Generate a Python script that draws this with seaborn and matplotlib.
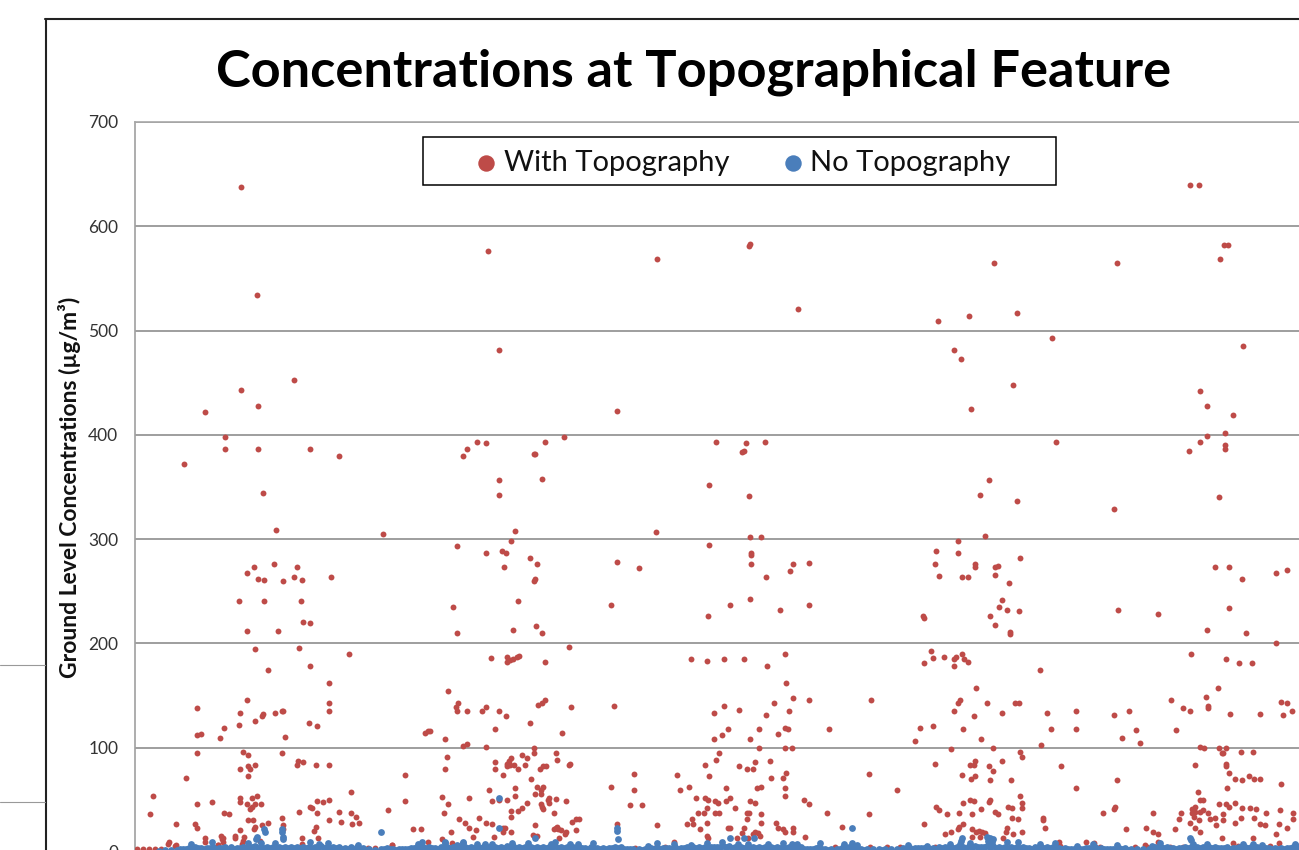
#!/usr/bin/env python3
# -*- coding: utf-8 -*-
#%% Imports
import matplotlib
matplotlib.use("Agg")
import matplotlib.pyplot as plt
from matplotlib.lines import Line2D
from matplotlib.patches import Rectangle
import pandas as pd
import seaborn as sns

#%% Data: x is the sample number along the axis, y is concentration in ug/m3
# With Topography, above about 400
x_top = [106, 122, 106, 159, 353, 364, 522, 614, 615, 663,
         803, 834, 819, 826, 859, 882, 917, 982, 1055, 1064,
         1085, 1089, 1093, 1108, 878, 1065]
y_top = [638, 534, 443, 453, 576, 481, 569, 581, 583, 521,
         509, 514, 481, 473, 565, 517, 493, 565, 640, 640,
         569, 582, 582, 485, 448, 442]

# With Topography, about 230 to 430
x_upper = [70, 123, 90, 90, 123, 175, 204, 49, 128, 141,
           248, 322, 351, 367, 371, 395, 376, 380, 342, 351,
           332, 328, 399, 364, 364, 112, 119, 139, 162, 123,
           129, 148, 159, 167, 196, 104, 129, 166, 318, 383,
           369, 482, 410, 429, 400, 407, 581, 611, 607, 609,
           630, 574, 614, 521, 615, 626, 574, 616, 616, 402,
           482, 504, 616, 658, 674, 655, 631, 400, 399, 476,
           595, 615, 674, 645, 836, 921, 979, 1072, 1098, 1090,
           1072, 1065, 1054, 1090, 1090, 1084, 854, 845, 882, 850,
           823, 801, 823, 885, 800, 840, 840, 860, 863, 860,
           804, 827, 833, 874, 867, 864, 872, 884, 983, 1080,
           1094, 1107, 1141, 1152, 1094]
y_upper = [422, 428, 398, 386, 386, 386, 380, 372, 344, 309,
           305, 293, 287, 289, 287, 282, 298, 308, 393, 392,
           386, 380, 382, 357, 342, 268, 273, 276, 273, 262,
           261, 260, 264, 261, 264, 241, 241, 241, 235, 241,
           273, 423, 393, 398, 382, 358, 393, 392, 384, 385,
           393, 352, 341, 307, 302, 302, 294, 287, 285, 276,
           278, 272, 276, 276, 277, 269, 264, 262, 260, 237,
           237, 243, 237, 232, 425, 393, 329, 428, 419, 402,
           399, 393, 385, 390, 386, 340, 357, 342, 337, 303,
           298, 289, 287, 282, 276, 276, 273, 273, 274, 266,
           265, 264, 264, 258, 242, 235, 232, 231, 232, 273,
           273, 262, 268, 270, 234]

# With Topography, first cluster below 230
x_left = [168, 175, 112, 143, 120, 164, 214, 133, 175, 194,
          112, 194, 62, 105, 140, 147, 148, 128, 127, 194,
          120, 174, 182, 104, 89, 85, 62, 66, 150, 108,
          113, 62, 147, 163, 168, 162, 120, 113, 115, 105,
          181, 194, 113, 51, 18, 216, 105, 122, 117, 105,
          112, 77, 62, 126, 120, 117, 115, 182, 188, 194,
          175, 177, 15, 89, 94, 164, 182, 204, 216, 221,
          147, 113, 118, 133, 127, 148, 194, 206, 224, 217,
          41, 60, 62, 120, 119, 105, 148, 181, 179, 70,
          86, 88, 100, 109, 34, 41, 167, 167, 183, 83,
          125, 270, 270, 253, 278, 286, 257, 290, 293]
y_left = [221, 220, 212, 212, 195, 196, 190, 175, 178, 162,
          146, 143, 138, 133, 133, 135, 135, 132, 130, 135,
          126, 124, 121, 122, 119, 109, 112, 113, 110, 96,
          93, 95, 95, 87, 86, 83, 83, 82, 80, 80,
          83, 83, 73, 71, 54, 58, 52, 54, 52, 48,
          46, 48, 46, 46, 46, 43, 41, 49, 48, 50,
          43, 42, 36, 37, 36, 38, 37, 38, 37, 34,
          33, 31, 31, 28, 26, 26, 31, 29, 28, 27,
          27, 27, 23, 24, 22, 21, 22, 24, 20, 13,
          15, 13, 15, 14, 10, 7, 13, 8, 13, 7,
          11, 74, 49, 40, 22, 22, 7, 114, 116]

# With Topography, middle clusters below 230
x_mid = [322, 378, 401, 407, 573, 434, 356, 372, 372, 375,
         378, 382, 384, 410, 556, 572, 589, 609, 632, 650,
         651, 313, 658, 674, 639, 323, 321, 322, 332, 347,
         351, 364, 371, 403, 407, 410, 436, 479, 589, 579,
         604, 654, 631, 395, 360, 593, 624, 650, 653, 694,
         427, 587, 579, 643, 615, 295, 310, 328, 332, 351,
         399, 399, 624, 650, 657, 421, 422, 584, 581, 312,
         310, 387, 392, 360, 360, 376, 374, 372, 375, 379,
         372, 383, 390, 405, 408, 411, 435, 434, 570, 620,
         604, 612, 618, 635, 368, 499, 542, 396, 574, 651,
         648, 636, 380, 402, 408, 406, 476, 354, 499, 545,
         554, 591, 622, 626, 650, 650, 307, 334, 364, 372,
         380, 400, 406, 414, 421, 413, 414, 357, 392, 431,
         313, 561, 570, 573, 580, 583, 595, 591, 615, 620,
         669, 674, 495, 507, 406, 407, 408, 387, 383, 376,
         376, 419, 309, 600, 572, 563, 569, 580, 584, 612,
         614, 612, 626, 692, 344, 324, 330, 334, 341, 351,
         357, 437, 441, 444, 400, 557, 552, 558, 572, 626,
         641, 482, 522, 707, 565, 593, 595, 609, 643, 648,
         650, 658, 658, 368, 370, 368, 376, 421, 419, 423,
         426, 422, 431, 430, 441, 316, 607, 620, 623, 618,
         625, 398, 402, 424, 359, 338, 670, 572, 573, 613,
         602, 539, 307]
y_mid = [210, 213, 217, 210, 226, 197, 186, 187, 182, 184,
         185, 187, 188, 182, 185, 183, 185, 185, 178, 190,
         162, 154, 148, 146, 143, 143, 139, 135, 135, 135,
         139, 135, 130, 141, 143, 146, 139, 140, 140, 133,
         136, 135, 131, 124, 118, 118, 118, 119, 118, 118,
         114, 112, 108, 113, 108, 116, 108, 102, 104, 101,
         100, 95, 100, 100, 100, 95, 88, 95, 88, 91,
         80, 93, 90, 86, 80, 90, 87, 84, 83, 83,
         82, 80, 83, 80, 82, 82, 84, 83, 83, 86,
         82, 80, 80, 87, 74, 75, 74, 70, 73, 76,
         71, 71, 61, 62, 62, 59, 62, 59, 59, 59,
         62, 61, 61, 62, 61, 54, 53, 52, 50, 50,
         54, 56, 56, 52, 51, 50, 47, 49, 47, 49,
         46, 52, 52, 50, 49, 47, 52, 49, 49, 47,
         50, 46, 45, 45, 46, 43, 41, 42, 39, 39,
         34, 37, 37, 42, 42, 37, 37, 37, 37, 37,
         37, 32, 36, 37, 33, 32, 28, 23, 21, 28,
         27, 29, 32, 32, 26, 32, 27, 27, 28, 28,
         28, 27, 26, 24, 22, 23, 23, 23, 23, 22,
         19, 23, 19, 23, 23, 19, 19, 23, 22, 22,
         21, 24, 19, 17, 21, 19, 18, 19, 18, 17,
         15, 16, 15, 13, 14, 14, 14, 15, 13, 13,
         13, 10, 12]

# With Topography, right clusters below 230
x_right = [788, 789, 855, 860, 875, 875, 1023, 1072, 1111, 1141,
           796, 809, 798, 789, 819, 821, 827, 819, 829, 833,
           905, 1056, 1091, 1104, 1117, 841, 1083, 736, 1036, 1071,
           1146, 1152, 823, 825, 852, 880, 884, 819, 867, 912,
           941, 994, 1048, 1055, 1073, 1073, 1095, 1125, 1157, 1148,
           979, 839, 785, 798, 828, 916, 941, 1001, 1041, 987,
           1005, 846, 780, 906, 858, 816, 1065, 1069, 1084, 1091,
           1087, 1088, 1106, 1118, 885, 887, 800, 840, 839, 835,
           854, 858, 867, 926, 1060, 1091, 1091, 1094, 734, 827,
           840, 836, 855, 876, 982, 1100, 1107, 1114, 1119, 1125,
           1146, 762, 941, 1063, 1092, 885, 835, 839, 855, 854,
           1065, 1068, 828, 887, 887, 1084, 1091, 1094, 1100, 1107,
           1115, 1121, 873, 877, 801, 804, 846, 860, 863, 734,
           812, 824, 837, 968, 980, 979, 1018, 1060, 1057, 1060,
           1057, 1065, 1068, 1073, 1080, 1088, 1088, 1059, 1046, 1044,
           1064, 1075, 1106, 1131, 1145, 1158, 1158, 1119, 1055, 1081,
           1100, 1125, 1130, 1144, 1152, 908, 908, 877, 883, 837,
           841, 844, 847, 850, 789, 828, 824, 823, 816, 810,
           910, 872, 871, 887, 878, 991, 1011, 1018, 1023, 1040,
           1060, 1065, 1141, 845, 837, 868, 1087, 1098, 1118, 1144,
           924, 951, 959, 1010, 1023]
y_right = [226, 224, 226, 218, 211, 209, 228, 213, 210, 200,
           193, 187, 186, 181, 185, 187, 190, 178, 185, 182,
           175, 190, 185, 181, 181, 157, 157, 146, 146, 149,
           144, 143, 143, 146, 143, 143, 143, 135, 133, 133,
           135, 135, 138, 135, 140, 138, 132, 132, 135, 131,
           131, 130, 119, 121, 118, 118, 118, 117, 117, 109,
           105, 108, 106, 103, 100, 99, 101, 100, 100, 100,
           95, 95, 96, 96, 96, 91, 84, 87, 83, 83,
           82, 78, 87, 82, 83, 84, 82, 76, 75, 74,
           73, 70, 69, 69, 69, 70, 69, 73, 70, 70,
           65, 59, 61, 58, 61, 54, 50, 49, 50, 48,
           50, 50, 47, 47, 42, 46, 46, 43, 47, 42,
           42, 41, 43, 42, 43, 40, 41, 38, 36, 36,
           36, 37, 36, 37, 43, 41, 37, 43, 41, 38,
           37, 38, 40, 37, 33, 36, 31, 34, 37, 32,
           31, 32, 33, 37, 40, 37, 32, 33, 28, 26,
           28, 27, 26, 27, 23, 33, 31, 33, 32, 22,
           19, 20, 19, 18, 27, 27, 24, 22, 19, 17,
           23, 23, 19, 19, 17, 22, 23, 19, 17, 22,
           23, 19, 17, 14, 14, 13, 13, 9, 13, 9,
           10, 10, 9, 7, 10]

# With Topography, small values peeking out over the blue band
x_low = [2, 8, 14, 20, 26, 33, 40, 70, 87, 88, 100, 108, 83, 107, 257,
         293, 317, 233, 240, 500, 520, 530, 700, 735, 752, 765, 800, 925, 965, 1000,
         1012, 1035, 1048, 1103, 1135, 1163]
y_low = [2.5, 2.5, 2.5, 2.5, 2.5, 8, 6, 10, 12, 10, 13, 11, 7, 8, 7,
         10, 9, 4, 4, 4, 4, 5, 5, 5, 5, 5, 5, 6, 5, 5,
         5, 5, 5, 6, 6, 6]

# No Topography, points standing clear of the band
x_blue_high = [77, 129, 147, 148, 246, 175, 122, 56, 364, 364,
               400, 482, 482, 483, 595, 609, 619, 717, 717, 685,
               310, 328, 458, 827, 852, 858, 855, 1055, 1056, 130,
               147, 113, 121, 126, 140, 148, 184, 193, 223, 287,
               283, 310, 328, 322, 342, 350, 357, 377, 393, 416,
               420, 435, 443, 513, 522, 539, 556, 572, 587, 603,
               613, 633, 648, 657, 662, 709, 722, 773, 792, 815,
               825, 835, 826, 853, 857, 872, 883, 905, 920, 942,
               958, 982, 1017, 1025, 1058, 1072, 1108, 1118, 1127, 1160]
y_blue_high = [10, 22, 22, 14, 19, 9.6, 14, 8, 23, 52,
               13, 23, 20, 12, 13, 13, 13, 23, 9, 9,
               10, 10, 9, 13, 14, 12, 13.4, 13, 11.6, 19,
               19, 9, 12.6, 9, 9, 12, 8, 9, 7, 10,
               8, 9, 9, 7, 8, 8, 8, 9, 9, 8,
               10, 8, 8, 6, 9, 8, 7, 9, 10, 8,
               8, 8, 9, 8, 8, 8, 7, 7, 6, 8,
               8, 9, 11, 11, 10, 10, 10, 8, 9, 6,
               8, 7, 6, 9, 8, 8, 8, 8, 6.5, 8]

# No Topography, the band along the axis
x_blue_band = [24, 30, 36, 42, 48, 54, 60, 66, 72, 78, 84, 90, 96, 102, 108,
               114, 120, 126, 132, 138, 144, 150, 156, 162, 168, 174, 180, 186, 192, 198,
               204, 210, 216, 222, 228, 234, 240, 246, 252, 258, 264, 270, 276, 282, 288,
               294, 300, 306, 312, 318, 324, 330, 336, 342, 348, 354, 360, 366, 372, 378,
               384, 390, 396, 402, 408, 414, 420, 426, 432, 438, 444, 450, 456, 462, 468,
               474, 480, 486, 492, 498, 504, 510, 516, 522, 528, 534, 540, 546, 552, 558,
               564, 570, 576, 582, 588, 594, 600, 606, 612, 618, 624, 630, 636, 642, 648,
               654, 660, 666, 672, 678, 684, 690, 696, 702, 708, 714, 720, 726, 732, 738,
               744, 750, 756, 762, 768, 774, 780, 786, 792, 798, 804, 810, 816, 822, 828,
               834, 840, 846, 852, 858, 864, 870, 876, 882, 888, 894, 900, 906, 912, 918,
               924, 930, 936, 942, 948, 954, 960, 966, 972, 978, 984, 990, 996, 1002, 1008,
               1014, 1020, 1026, 1032, 1038, 1044, 1050, 1056, 1062, 1068, 1074, 1080, 1086, 1092, 1098,
               1104, 1110, 1116, 1122, 1128, 1134, 1140, 1146, 1152, 1158, 1163]
y_blue_band = [1, 1.5, 2, 2.2, 2.5, 4, 4.5, 4, 4, 4.5, 4, 4.5, 4.5, 4, 5,
               5, 5.5, 5, 5, 5, 5, 5, 4.5, 4.5, 5, 5, 5, 5.5, 5, 4.5,
               4.5, 4, 4.5, 4.5, 4, 2.5, 2, 3, 4, 2.5, 2.5, 3, 4, 4.5, 5,
               4.5, 4, 4.5, 5, 4.5, 4.5, 5, 4.5, 5, 5, 5, 5, 5, 5.5, 5.5,
               5, 5, 5, 5, 5, 5, 5.5, 5, 5, 5, 5, 4, 4.5, 4, 4,
               4, 5, 5, 3, 2.5, 2.5, 2.5, 4, 5, 4, 4, 4.5, 4, 4.5, 5,
               4.5, 5, 5, 5, 5.5, 5.5, 5, 5, 5, 5, 5, 5, 4.5, 4.5, 5,
               4.5, 5, 4.5, 3, 3, 4.5, 3, 2.5, 3, 5, 5, 4, 3, 2.5, 2.5,
               2.5, 2.5, 2.5, 3, 4, 4.5, 4, 4, 4.5, 4, 4.5, 4.5, 5, 5, 5,
               5.5, 5.5, 5, 5.5, 6, 5, 5, 5, 5, 4.5, 4, 4.5, 4.5, 4.5, 5,
               4, 4, 3, 4, 3, 4, 4.5, 4, 3, 3, 4, 4, 3, 2.5, 2.5,
               3, 4.5, 5, 4.5, 4, 4, 4.5, 5, 5, 5, 4.5, 4.5, 4, 4.5, 4,
               4.5, 5, 5, 4.5, 4.5, 4, 4, 4, 4, 4.5, 4.5]

# No Topography, the points between those of the band
x_blue_fill = [45, 51, 57, 63, 69, 75, 81, 87, 93, 99, 105, 111, 117, 123, 129,
               135, 141, 147, 153, 159, 165, 171, 177, 183, 189, 195, 201, 207, 213, 219,
               225, 231, 249, 255, 261, 267, 273, 279, 285, 291, 297, 303, 309, 315, 321,
               327, 333, 339, 345, 351, 357, 363, 369, 375, 381, 387, 393, 399, 405, 411,
               417, 423, 429, 435, 441, 447, 453, 459, 465, 471, 477, 483, 489, 495, 507,
               519, 525, 531, 537, 543, 549, 555, 561, 567, 573, 579, 585, 591, 597, 603,
               609, 615, 621, 627, 633, 639, 645, 651, 657, 663, 669, 675, 681, 687, 693,
               705, 711, 717, 723, 729, 747, 765, 771, 777, 783, 789, 795, 801, 807, 813,
               819, 825, 831, 837, 843, 849, 855, 861, 867, 873, 879, 885, 891, 897, 903,
               909, 915, 921, 927, 933, 939, 945, 951, 957, 963, 969, 975, 981, 987, 993,
               1017, 1023, 1029, 1035, 1041, 1047, 1053, 1059, 1065, 1071, 1077, 1083, 1089, 1095, 1101,
               1107, 1113, 1119, 1125, 1131, 1137, 1143, 1149, 1155, 1161]
y_blue_fill = [2.5, 3, 4, 3.5, 3, 3.5, 3, 3.5, 3, 3, 4, 4, 4.5, 4, 4,
               4, 4, 4, 3.5, 3.5, 4, 4, 4, 4.5, 4, 3.5, 3.5, 3, 3, 3,
               2.5, 2, 2.5, 2.5, 2, 2.5, 3, 3.5, 4, 3.5, 3.5, 3, 4, 4, 3.5,
               4, 3.5, 4, 4, 4, 4, 4, 4, 4.5, 4, 4, 4, 4, 4, 4,
               4.5, 4, 4, 4, 4, 3.5, 3, 3.5, 3, 3, 4, 4, 3, 2.5, 2,
               2.5, 3, 3.5, 3, 3, 3.5, 3.5, 4, 4, 4, 4.5, 4.5, 4.5, 4, 4,
               4, 4, 4, 4, 3.5, 3.5, 4, 4, 4, 3.5, 2.5, 2.5, 3.5, 3, 2,
               2.5, 4, 4, 3, 2, 2, 2, 2.5, 3, 3.5, 3.5, 3, 3, 3.5, 3.5,
               3.5, 4, 4, 4.5, 4.5, 4.5, 4.5, 4, 4, 4, 4, 4, 3.5, 3, 3.5,
               3.5, 3.5, 4, 3, 2.5, 2.5, 3, 3.5, 3.5, 3, 2.5, 2.5, 3, 2.5, 2,
               2.5, 4, 4, 3.5, 3, 3.5, 4, 4, 4, 4, 3.5, 3.5, 3.5, 3, 3.5,
               4, 4, 4, 3.5, 3.5, 3, 3, 3, 3.5, 3.5]

y_ticks = [0, 100, 200, 300, 400, 500, 600, 700]

series_names = ['With Topography', 'No Topography']
series_colors = ['#BE4B48', '#4A7EBB']

#%% Tables for seaborn
df_with = pd.DataFrame({
    'x': x_top + x_upper + x_left + x_mid + x_right + x_low,
    'conc': y_top + y_upper + y_left + y_mid + y_right + y_low,
})
df_no = pd.DataFrame({
    'x': x_blue_band + x_blue_fill + x_blue_high,
    'conc': y_blue_band + y_blue_fill + y_blue_high,
})

#%% Plot
sns.set_theme(style='white')
plt.rcParams['font.family'] = ['Lato', 'DejaVu Sans']

W, H = 1299, 850
fig = plt.figure(figsize=(W / 100, H / 100), dpi=100, facecolor='white')
# the original is a cropped screenshot, so the axes run past the bottom and right edges
ax = fig.add_axes([135 / W, -2 / H, 1164 / W, 730 / H])

sns.scatterplot(data=df_with, x='x', y='conc', color=series_colors[0], s=18,
                linewidth=0, label=series_names[0], ax=ax, zorder=3)
sns.scatterplot(data=df_no, x='x', y='conc', color=series_colors[1], s=24,
                linewidth=0, label=series_names[1], ax=ax, zorder=4)

ax.set_xlim(0, 1164)
ax.set_ylim(0, 700)
ax.set_yticks(y_ticks)
ax.set_xticks([])
ax.set_xlabel('')
ax.set_ylabel('Ground Level Concentrations (µg/m³)', fontsize=16.5, fontweight='bold',
              color='#111111')
ax.yaxis.set_label_coords(-54 / 1164, (852 - 487) / 730)
ax.tick_params(axis='y', length=0, pad=12, labelsize=12.5, labelcolor='#333333')
ax.grid(axis='y', color='#8E8E8E', linewidth=1.2)
ax.set_axisbelow(True)

for side in ['right', 'bottom']:
    ax.spines[side].set_visible(False)
ax.spines['left'].set_color('#A0A0A0')
ax.spines['left'].set_linewidth(1.2)
ax.spines['top'].set_color('#A8A8A8')
ax.spines['top'].set_linewidth(1.2)

# legend box is drawn on its own, the entries sit off-centre in it in the original
ax.add_patch(Rectangle((422.5 / W, 1 - 185 / H), 633 / W, 48 / H, transform=fig.transFigure,
                       facecolor='white', edgecolor='black', linewidth=1.1, zorder=9))
leg = ax.legend(ncols=2, loc='center left', bbox_to_anchor=(473 / W, 1 - 163 / H),
                bbox_transform=fig.transFigure, frameon=False, fontsize=21,
                borderpad=0, handletextpad=0.15, columnspacing=1.74, handlelength=0.9,
                borderaxespad=0)
leg.set_zorder(10)
leg.legend_handles[0].set_sizes([140])
leg.legend_handles[1].set_sizes([140])
for t in leg.get_texts():
    t.set_color('#111111')

fig.text(694 / W, 1 - 72 / H, 'Concentrations at Topographical Feature', ha='center',
         va='center', fontsize=37.7, fontweight='bold', color='black')

# chart frame and the stray lines of the slide behind it
frame = '#222222'
fig.add_artist(Line2D([45 / W, 1], [1 - 19 / H, 1 - 19 / H], color=frame, linewidth=1.5))
fig.add_artist(Line2D([45.5 / W, 45.5 / W], [0, 1 - 19 / H], color=frame, linewidth=1.5))
for py in [665, 802]:
    fig.add_artist(Line2D([0, 45 / W], [1 - py / H, 1 - py / H], color='#999999', linewidth=0.8))

fig.savefig('out.png', dpi=100)
